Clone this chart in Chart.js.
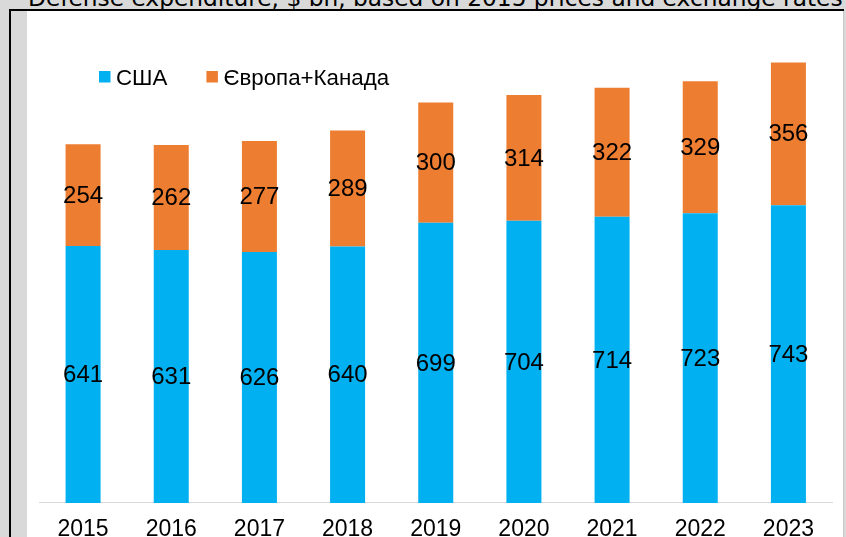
<!DOCTYPE html>
<html>
<head>
<meta charset="utf-8">
<script src="https://cdn.jsdelivr.net/npm/chart.js@4.4.1/dist/chart.umd.min.js"></script>
<style>
html,body{margin:0;padding:0;width:846px;height:537px;overflow:hidden;background:#d9d9d9;}
#frame{position:absolute;left:9px;top:9px;width:835px;height:540px;border-top:2px solid #000;border-left:2px solid #000;box-sizing:border-box;}
#panel{position:absolute;left:27px;top:11px;width:816px;height:530px;background:#fff;border-right:1px solid #c8c8c8;}
#title{position:absolute;left:28px;top:-17px;font-family:"DejaVu Sans",sans-serif;font-size:23.3px;line-height:30px;white-space:nowrap;color:#000;}
#c{position:absolute;left:0;top:0;}
</style>
</head>
<body>
<div id="frame"></div>
<div id="panel"></div>
<div id="title">Defense expenditure, $ bn, based on 2015 prices and exchange rates</div>
<canvas id="c" width="846" height="557"></canvas>
<script>
const years = ['2015','2016','2017','2018','2019','2020','2021','2022','2023'];
const usa = [641, 631, 626, 640, 699, 704, 714, 723, 743];
const europeCanada = [254, 262, 277, 289, 300, 314, 322, 329, 356];
const seriesNames = ['США', 'Європа+Канада'];

const segmentLabels = {
  id: 'segmentLabels',
  afterDatasetsDraw(chart) {
    const ctx = chart.ctx;
    ctx.save();
    ctx.font = '24px "Liberation Sans", Arial, sans-serif';
    ctx.fillStyle = '#000';
    ctx.textAlign = 'center';
    ctx.textBaseline = 'middle';
    chart.data.datasets.forEach((ds, i) => {
      const meta = chart.getDatasetMeta(i);
      meta.data.forEach((el, j) => {
        const p = el.getProps(['x', 'y', 'base'], true);
        ctx.fillText(String(ds.data[j]), p.x, (p.y + p.base) / 2 + 1);
      });
    });
    ctx.restore();
  }
};

const legendInside = {
  id: 'legendInside',
  afterDraw(chart) {
    const ctx = chart.ctx;
    ctx.save();
    ctx.font = '22.3px "Liberation Sans", Arial, sans-serif';
    ctx.textAlign = 'left';
    ctx.textBaseline = 'alphabetic';
    let x = 99;
    chart.data.datasets.forEach(ds => {
      ctx.fillStyle = ds.backgroundColor;
      ctx.fillRect(x, 71, 11.5, 11.5);
      ctx.fillStyle = '#000';
      ctx.fillText(ds.label, x + 17, 84.5);
      x += 17 + ctx.measureText(ds.label).width + 39;
    });
    ctx.restore();
  }
};

new Chart(document.getElementById('c'), {
  type: 'bar',
  data: {
    labels: years,
    datasets: [
      { label: seriesNames[0], data: usa, backgroundColor: '#00B0F0', barPercentage: 0.397, categoryPercentage: 1 },
      { label: seriesNames[1], data: europeCanada, backgroundColor: '#ED7D31', barPercentage: 0.397, categoryPercentage: 1 }
    ]
  },
  options: {
    responsive: false,
    animation: false,
    devicePixelRatio: 1,
    layout: { padding: { left: 39, right: 13.5, top: 22, bottom: 0 } },
    plugins: { legend: { display: false }, tooltip: { enabled: false }, title: { display: false } },
    scales: {
      x: {
        stacked: true,
        grid: { display: false, drawTicks: false, tickLength: 0 },
        border: { display: true, color: '#d9d9d9', width: 1 },
        ticks: { color: '#000', padding: 17, font: { family: '"Liberation Sans", Arial, sans-serif', size: 23, lineHeight: 0.87 } }
      },
      y: { stacked: true, display: false, min: 0, max: 1200 }
    }
  },
  plugins: [segmentLabels, legendInside]
});
</script>
</body>
</html>
